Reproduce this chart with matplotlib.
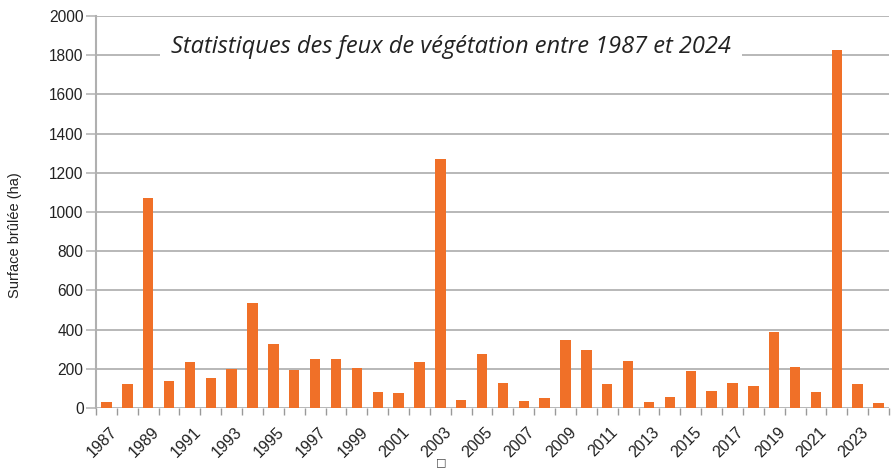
import matplotlib
matplotlib.use("Agg")
import matplotlib.pyplot as plt
import numpy as np

years = list(range(1987, 2025))
surface = [30, 120, 1070, 140, 237, 155, 200, 536, 327, 196, 248, 250, 202, 80, 78, 237,
           1270, 43, 277, 126, 38, 49, 347, 294, 124, 242, 29, 58, 187, 85, 130, 111,
           390, 211, 82, 1825, 124, 27]
yticks = list(range(0, 2001, 200))
title = "Statistiques des feux de végétation entre 1987 et 2024"
ylabel = "Surface brûlée (ha)"

W, H = 891, 469
fig = plt.figure(figsize=(W / 100, H / 100), dpi=100)
ax = fig.add_axes([96 / W, 1 - 408 / H, (889 - 96) / W, (408 - 16) / H])

x = np.arange(len(years))
ax.bar(x, surface, width=0.5, color="#F07028", zorder=3)

ax.set_xlim(-0.5, len(years) - 0.5)
ax.set_ylim(0, 2000)
ax.set_yticks(yticks)
ax.set_yticklabels([str(v) for v in yticks], fontsize=11.2, family="Liberation Sans", color="#222222")
ax.yaxis.grid(True, color="#b8b8b8", linewidth=1.4, zorder=0)
ax.set_axisbelow(True)

ax.set_xticks(np.arange(-0.5, len(years), 1.0), minor=False)
ax.set_xticklabels([])
ax.tick_params(axis="x", length=5, color="#999999", width=1)
ax.tick_params(axis="y", length=7, color="#b8b8b8", width=1.2, pad=2)

for i, yr in enumerate(years):
    if (yr - 1987) % 2 == 0:
        ax.text(i + 0.15, -85, str(yr), rotation=45, ha="right", va="top",
                rotation_mode="anchor", fontsize=11.5, family="Liberation Sans",
                color="#222222")

for side in ["top", "right", "bottom"]:
    ax.spines[side].set_visible(False)
ax.spines["left"].set_color("#b0b0b0")
ax.spines["left"].set_linewidth(1.5)

fig.text(15 / W, 1 - 235 / H, ylabel, rotation=90, ha="center", va="center",
         fontsize=10.5, family="Liberation Sans", color="#222222")

fig.text(451 / W, 1 - 47 / H, title, ha="center", va="center", fontsize=17,
         style="italic", family="Open Sans", color="#222222",
         bbox=dict(facecolor="white", edgecolor="none", pad=8))

fig.text(441 / W, 1 - 462 / H, "□", ha="center", va="center", fontsize=8, color="#444444")

fig.savefig("out.png", dpi=100)
